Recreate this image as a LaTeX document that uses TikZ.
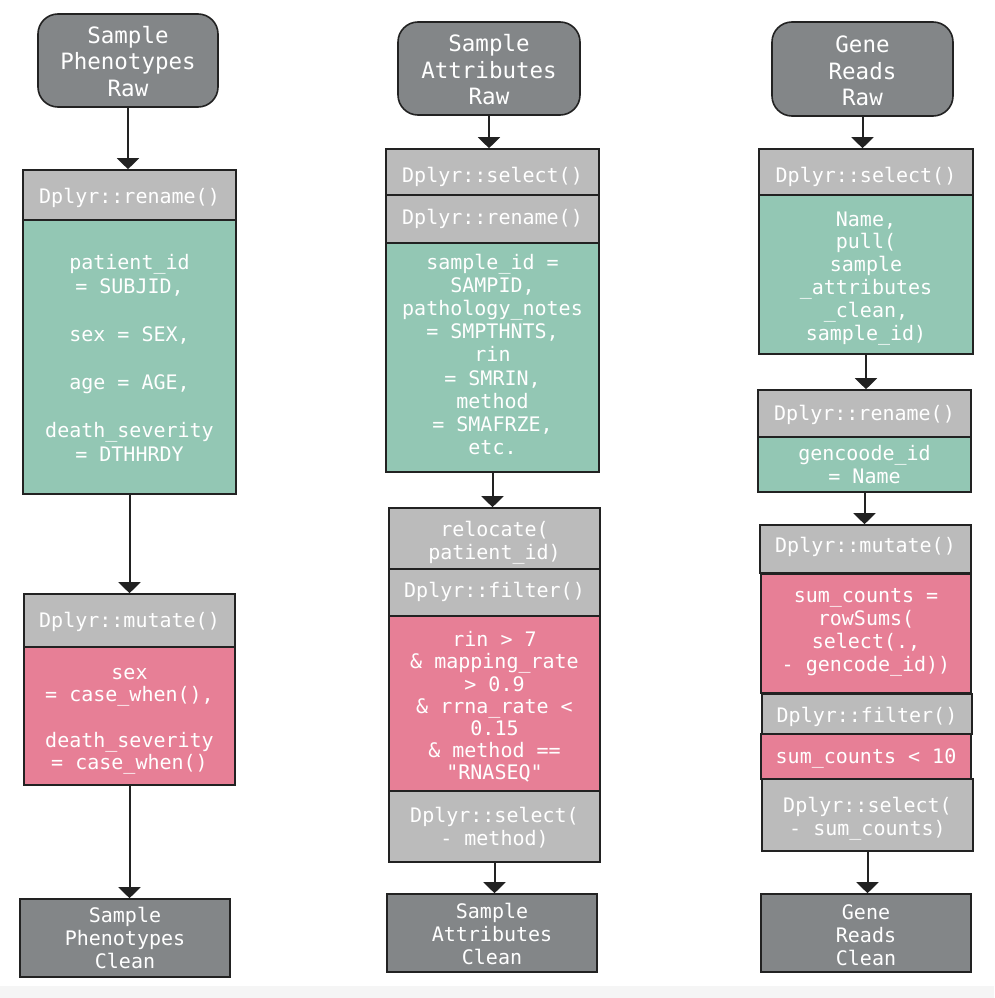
\documentclass[tikz,border=0pt]{standalone}
\usepackage{fontspec}
\usetikzlibrary{arrows.meta}
\newfontfamily\codefont{DejaVu Sans Mono}
\definecolor{rawgray}{HTML}{838688}
\definecolor{hdrgray}{HTML}{BBBBBB}
\definecolor{boxgreen}{HTML}{93C7B4}
\definecolor{boxpink}{HTML}{E77F96}
\definecolor{edgecol}{HTML}{222222}
\definecolor{bandgray}{HTML}{F5F5F5}
% text block: rows of equal pitch; optional arg adds room on top (moves text down by half of it)
\newcommand{\boxtext}[2][0pt]{\raisebox{0pt}[\dimexpr\height+#1\relax][\depth]{\begin{tabular}{@{}c@{}}#2\end{tabular}}}
\tikzset{
  base/.style={draw=edgecol, line width=1.6pt, inner sep=0pt, text=white,
    font=\codefont\fontsize{20}{23.5}\selectfont},
  bs/.style={font=\codefont\fontsize{20}{#1}\selectfont},
  rawbox/.style={base, fill=rawgray, rounded corners=20pt, font=\codefont\fontsize{22.5}{26.5}\selectfont},
  cleanbox/.style={base, fill=rawgray, font=\codefont\fontsize{20}{23}\selectfont},
  hdr/.style={base, fill=hdrgray},
  greenbox/.style={base, fill=boxgreen},
  pinkbox/.style={base, fill=boxpink},
  conn/.style={draw=edgecol, line width=2pt, -{Triangle[width=22pt,length=11pt]}},
}
\begin{document}
\begin{tikzpicture}[x=1pt,y=-1pt]
\useasboundingbox (0,0) rectangle (994,998);
\fill[white] (0,0) rectangle (994,998);
\fill[bandgray] (0,986) rectangle (994,998);
% column 1
\node[rawbox, minimum width=180pt, minimum height=93pt] (r1) at (128,60.5) {\boxtext[8.2pt]{Sample\\Phenotypes\\Raw}};
\node[hdr, minimum width=213pt, minimum height=50pt] (h1) at (129.5,195) {\boxtext[8pt]{Dplyr::rename()}};
\node[greenbox, bs=24, minimum width=213pt, minimum height=274pt] (g1) at (129.5,357)
  {\boxtext[7.4pt]{patient\_id\\= SUBJID,\\ \\sex = SEX,\\ \\age = AGE,\\ \\death\_severity\\= DTHHRDY}};
\node[hdr, minimum width=211pt, minimum height=53pt] (h2) at (129.5,620.5) {\boxtext[4pt]{Dplyr::mutate()}};
\node[pinkbox, bs=22.6, minimum width=211pt, minimum height=138pt] (p1) at (129.5,716)
  {\boxtext[8pt]{sex\\= case\_when(),\\ \\death\_severity\\= case\_when()}};
\node[cleanbox, minimum width=210pt, minimum height=78pt] (c1) at (125,938) {\boxtext[6.4pt]{Sample\\Phenotypes\\Clean}};
% column 2
\node[rawbox, minimum width=182pt, minimum height=93pt] (r2) at (489,68.5) {\boxtext[9pt]{Sample\\Attributes\\Raw}};
\node[hdr, minimum width=213pt, minimum height=46pt] (h3) at (492.5,172) {\boxtext[12pt]{Dplyr::select()}};
\node[hdr, minimum width=213pt, minimum height=48pt] (h4) at (492.5,219) {\boxtext[1.6pt]{Dplyr::rename()}};
\node[greenbox, bs=23.1, minimum width=213pt, minimum height=229pt] (g2) at (492.5,357.5)
  {\boxtext[-0.4pt]{sample\_id =\\SAMPID,\\pathology\_notes\\= SMPTHNTS,\\rin\\= SMRIN,\\method\\= SMAFRZE,\\etc.}};
\node[hdr, minimum width=211pt, minimum height=61pt] (h5) at (494.5,538.5) {\boxtext[10pt]{relocate(\\patient\_id)}};
\node[hdr, minimum width=211pt, minimum height=47pt] (h6) at (494.5,592.5) {\boxtext[0.6pt]{Dplyr::filter()}};
\node[pinkbox, bs=22.2, minimum width=211pt, minimum height=175pt] (p2) at (494.5,703.5)
  {\boxtext[10.8pt]{rin > 7\\\& mapping\_rate\\> 0.9\\\& rrna\_rate <\\0.15\\\& method ==\\"RNASEQ"}};
\node[hdr, minimum width=211pt, minimum height=71pt] (h7) at (494.5,826.5) {\boxtext[6pt]{Dplyr::select(\\- method)}};
\node[cleanbox, minimum width=210pt, minimum height=78pt] (c2) at (492,933) {\boxtext[8pt]{Sample\\Attributes\\Clean}};
% column 3
\node[rawbox, minimum width=181pt, minimum height=94pt] (r3) at (862.5,69) {\boxtext[10pt]{Gene\\Reads\\Raw}};
\node[hdr, minimum width=214pt, minimum height=46pt] (h8) at (866,172) {\boxtext[11.6pt]{Dplyr::select()}};
\node[greenbox, bs=22.9, minimum width=214pt, minimum height=159pt] (g3) at (866,274.5)
  {\boxtext[8.4pt]{Name,\\pull(\\sample\\\_attributes\\\_clean,\\sample\_id)}};
\node[hdr, minimum width=213pt, minimum height=47pt] (h9) at (864.5,413.5) {\boxtext[4pt]{Dplyr::rename()}};
\node[greenbox, minimum width=213pt, minimum height=55pt] (g4) at (864.5,464.5) {\boxtext[6pt]{gencoode\_id\\= Name}};
\node[hdr, minimum width=211pt, minimum height=48pt] (h10) at (865.5,549) {\boxtext[-3.4pt]{Dplyr::mutate()}};
\node[pinkbox, bs=23, minimum width=210pt, minimum height=119pt] (p3) at (866,633.5)
  {\boxtext[-1.6pt]{sum\_counts =\\rowSums(\\select(.,\\- gencode\_id))}};
\node[hdr, minimum width=210pt, minimum height=40pt] (h11) at (867,714) {\boxtext[7.6pt]{Dplyr::filter()}};
\node[pinkbox, minimum width=210pt, minimum height=45pt] (p4) at (866,756.5) {\boxtext[4pt]{sum\_counts < 10}};
\node[hdr, minimum width=211pt, minimum height=72pt] (h12) at (867.5,815) {\boxtext[9pt]{Dplyr::select(\\- sum\_counts)}};
\node[cleanbox, minimum width=210pt, minimum height=78pt] (c3) at (866,933) {\boxtext[9pt]{Gene\\Reads\\Clean}};
% connectors
\draw[conn] (r1.south) -- (r1.south |- h1.north);
\draw[conn] (g1.south) -- (g1.south |- h2.north);
\draw[conn] (p1.south) -- (p1.south |- c1.north);
\draw[conn] (r2.south) -- (r2.south |- h3.north);
\draw[conn] (g2.south) -- (g2.south |- h5.north);
\draw[conn] (h7.south) -- (h7.south |- c2.north);
\draw[conn] (r3.south) -- (r3.south |- h8.north);
\draw[conn] (g3.south) -- (g3.south |- h9.north);
\draw[conn] (g4.south) -- (g4.south |- h10.north);
\draw[conn] (h12.south) -- (h12.south |- c3.north);
\end{tikzpicture}
\end{document}
